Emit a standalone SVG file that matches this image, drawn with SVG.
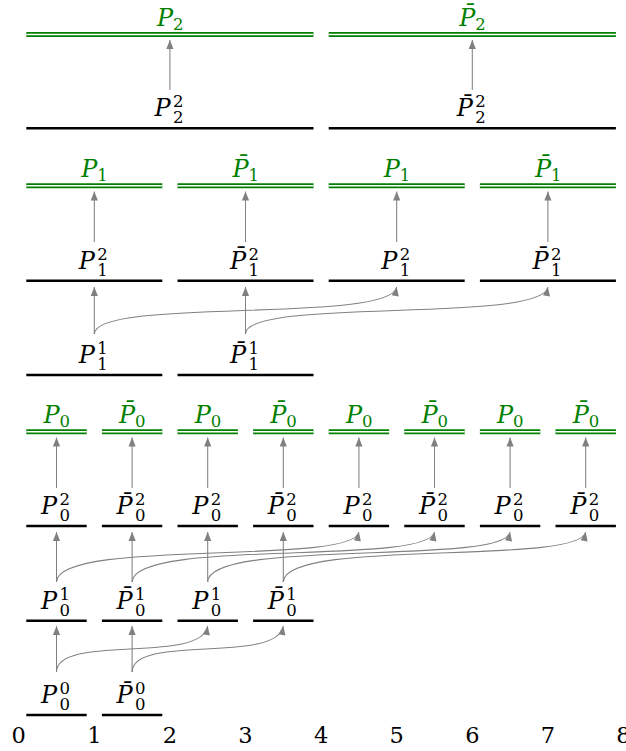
<svg xmlns="http://www.w3.org/2000/svg" width="626" height="751" viewBox="0 0 626 751">
<style>
.seg{stroke:#000;stroke-width:2.6;fill:none}
.gs{stroke:#008000;stroke-width:5;fill:none}
.gw{stroke:#fff;stroke-width:1.4;fill:none}
.arr{fill:none;stroke:#808080;stroke-width:1.05;marker-end:url(#ah)}
text{font-family:"DejaVu Serif",serif}
.P{font-style:italic;font-size:24px}
.s{font-style:normal;font-size:16.5px}
.g{fill:#008000}
.k{fill:#000}
.ax{font-size:22.5px;text-anchor:middle;fill:#000}
</style>
<defs>
<marker id="ah" markerUnits="userSpaceOnUse" orient="auto" overflow="visible" markerWidth="1" markerHeight="1"><path d="M0,0 L-9,-3.6 L-9,3.6 Z" fill="#808080"/></marker>
</defs>

<g id="g2-a"><line class="gs" x1="26.3" y1="34.5" x2="313.5" y2="34.5"/><line class="gw" x1="26.3" y1="34.5" x2="313.5" y2="34.5"/><text class="g"><tspan class="P" x="156.9" y="25.5">P</tspan><tspan class="s" x="172.9" y="29.5">2</tspan></text></g>
<g id="g2-b"><line class="gs" x1="328.7" y1="34.5" x2="615.9" y2="34.5"/><line class="gw" x1="328.7" y1="34.5" x2="615.9" y2="34.5"/><text class="g"><tspan class="P" x="459.3" y="25.5">P&#x304;</tspan><tspan class="s" x="475.3" y="29.5">2</tspan></text></g>
<g id="p22-a"><line class="seg" x1="26.3" y1="128.3" x2="313.5" y2="128.3"/><text class="k"><tspan class="P" x="154.4" y="116.3">P</tspan><tspan class="s" x="172.9" y="123.3">2</tspan><tspan class="s" x="172.9" y="107.3">2</tspan></text></g>
<g id="p22-b"><line class="seg" x1="328.7" y1="128.3" x2="615.9" y2="128.3"/><text class="k"><tspan class="P" x="456.8" y="116.3">P&#x304;</tspan><tspan class="s" x="475.3" y="123.3">2</tspan><tspan class="s" x="475.3" y="107.3">2</tspan></text></g>

<g id="g1-0"><line class="gs" x1="26.3" y1="185.7" x2="162.3" y2="185.7"/><line class="gw" x1="26.3" y1="185.7" x2="162.3" y2="185.7"/><text class="g"><tspan class="P" x="81.3" y="176.7">P</tspan><tspan class="s" x="97.3" y="180.7">1</tspan></text></g>
<g id="g1-1"><line class="gs" x1="177.5" y1="185.7" x2="313.5" y2="185.7"/><line class="gw" x1="177.5" y1="185.7" x2="313.5" y2="185.7"/><text class="g"><tspan class="P" x="232.5" y="176.7">P&#x304;</tspan><tspan class="s" x="248.5" y="180.7">1</tspan></text></g>
<g id="g1-2"><line class="gs" x1="328.7" y1="185.7" x2="464.7" y2="185.7"/><line class="gw" x1="328.7" y1="185.7" x2="464.7" y2="185.7"/><text class="g"><tspan class="P" x="383.7" y="176.7">P</tspan><tspan class="s" x="399.7" y="180.7">1</tspan></text></g>
<g id="g1-3"><line class="gs" x1="479.9" y1="185.7" x2="615.9" y2="185.7"/><line class="gw" x1="479.9" y1="185.7" x2="615.9" y2="185.7"/><text class="g"><tspan class="P" x="534.9" y="176.7">P&#x304;</tspan><tspan class="s" x="550.9" y="180.7">1</tspan></text></g>
<g id="p12-0"><line class="seg" x1="26.3" y1="280.7" x2="162.3" y2="280.7"/><text class="k"><tspan class="P" x="78.8" y="268.7">P</tspan><tspan class="s" x="97.3" y="275.7">1</tspan><tspan class="s" x="97.3" y="259.7">2</tspan></text></g>
<g id="p12-1"><line class="seg" x1="177.5" y1="280.7" x2="313.5" y2="280.7"/><text class="k"><tspan class="P" x="230" y="268.7">P&#x304;</tspan><tspan class="s" x="248.5" y="275.7">1</tspan><tspan class="s" x="248.5" y="259.7">2</tspan></text></g>
<g id="p12-2"><line class="seg" x1="328.7" y1="280.7" x2="464.7" y2="280.7"/><text class="k"><tspan class="P" x="381.2" y="268.7">P</tspan><tspan class="s" x="399.7" y="275.7">1</tspan><tspan class="s" x="399.7" y="259.7">2</tspan></text></g>
<g id="p12-3"><line class="seg" x1="479.9" y1="280.7" x2="615.9" y2="280.7"/><text class="k"><tspan class="P" x="532.4" y="268.7">P&#x304;</tspan><tspan class="s" x="550.9" y="275.7">1</tspan><tspan class="s" x="550.9" y="259.7">2</tspan></text></g>
<g id="p11-0"><line class="seg" x1="26.3" y1="375" x2="162.3" y2="375"/><text class="k"><tspan class="P" x="78.8" y="363">P</tspan><tspan class="s" x="97.3" y="370">1</tspan><tspan class="s" x="97.3" y="354">1</tspan></text></g>
<g id="p11-1"><line class="seg" x1="177.5" y1="375" x2="313.5" y2="375"/><text class="k"><tspan class="P" x="230" y="363">P&#x304;</tspan><tspan class="s" x="248.5" y="370">1</tspan><tspan class="s" x="248.5" y="354">1</tspan></text></g>

<g id="g0-0"><line class="gs" x1="26.3" y1="431.8" x2="86.7" y2="431.8"/><line class="gw" x1="26.3" y1="431.8" x2="86.7" y2="431.8"/><text class="g"><tspan class="P" x="43.5" y="422.8">P</tspan><tspan class="s" x="59.5" y="426.8">0</tspan></text></g>
<g id="g0-1"><line class="gs" x1="101.9" y1="431.8" x2="162.3" y2="431.8"/><line class="gw" x1="101.9" y1="431.8" x2="162.3" y2="431.8"/><text class="g"><tspan class="P" x="119.1" y="422.8">P&#x304;</tspan><tspan class="s" x="135.1" y="426.8">0</tspan></text></g>
<g id="g0-2"><line class="gs" x1="177.5" y1="431.8" x2="237.9" y2="431.8"/><line class="gw" x1="177.5" y1="431.8" x2="237.9" y2="431.8"/><text class="g"><tspan class="P" x="194.7" y="422.8">P</tspan><tspan class="s" x="210.7" y="426.8">0</tspan></text></g>
<g id="g0-3"><line class="gs" x1="253.1" y1="431.8" x2="313.5" y2="431.8"/><line class="gw" x1="253.1" y1="431.8" x2="313.5" y2="431.8"/><text class="g"><tspan class="P" x="270.3" y="422.8">P&#x304;</tspan><tspan class="s" x="286.3" y="426.8">0</tspan></text></g>
<g id="g0-4"><line class="gs" x1="328.7" y1="431.8" x2="389.1" y2="431.8"/><line class="gw" x1="328.7" y1="431.8" x2="389.1" y2="431.8"/><text class="g"><tspan class="P" x="345.9" y="422.8">P</tspan><tspan class="s" x="361.9" y="426.8">0</tspan></text></g>
<g id="g0-5"><line class="gs" x1="404.3" y1="431.8" x2="464.7" y2="431.8"/><line class="gw" x1="404.3" y1="431.8" x2="464.7" y2="431.8"/><text class="g"><tspan class="P" x="421.5" y="422.8">P&#x304;</tspan><tspan class="s" x="437.5" y="426.8">0</tspan></text></g>
<g id="g0-6"><line class="gs" x1="479.9" y1="431.8" x2="540.3" y2="431.8"/><line class="gw" x1="479.9" y1="431.8" x2="540.3" y2="431.8"/><text class="g"><tspan class="P" x="497.1" y="422.8">P</tspan><tspan class="s" x="513.1" y="426.8">0</tspan></text></g>
<g id="g0-7"><line class="gs" x1="555.5" y1="431.8" x2="615.9" y2="431.8"/><line class="gw" x1="555.5" y1="431.8" x2="615.9" y2="431.8"/><text class="g"><tspan class="P" x="572.7" y="422.8">P&#x304;</tspan><tspan class="s" x="588.7" y="426.8">0</tspan></text></g>
<g id="p02-0"><line class="seg" x1="26.3" y1="526" x2="86.7" y2="526"/><text class="k"><tspan class="P" x="41" y="514">P</tspan><tspan class="s" x="59.5" y="521">0</tspan><tspan class="s" x="59.5" y="505">2</tspan></text></g>
<g id="p02-1"><line class="seg" x1="101.9" y1="526" x2="162.3" y2="526"/><text class="k"><tspan class="P" x="116.6" y="514">P&#x304;</tspan><tspan class="s" x="135.1" y="521">0</tspan><tspan class="s" x="135.1" y="505">2</tspan></text></g>
<g id="p02-2"><line class="seg" x1="177.5" y1="526" x2="237.9" y2="526"/><text class="k"><tspan class="P" x="192.2" y="514">P</tspan><tspan class="s" x="210.7" y="521">0</tspan><tspan class="s" x="210.7" y="505">2</tspan></text></g>
<g id="p02-3"><line class="seg" x1="253.1" y1="526" x2="313.5" y2="526"/><text class="k"><tspan class="P" x="267.8" y="514">P&#x304;</tspan><tspan class="s" x="286.3" y="521">0</tspan><tspan class="s" x="286.3" y="505">2</tspan></text></g>
<g id="p02-4"><line class="seg" x1="328.7" y1="526" x2="389.1" y2="526"/><text class="k"><tspan class="P" x="343.4" y="514">P</tspan><tspan class="s" x="361.9" y="521">0</tspan><tspan class="s" x="361.9" y="505">2</tspan></text></g>
<g id="p02-5"><line class="seg" x1="404.3" y1="526" x2="464.7" y2="526"/><text class="k"><tspan class="P" x="419" y="514">P&#x304;</tspan><tspan class="s" x="437.5" y="521">0</tspan><tspan class="s" x="437.5" y="505">2</tspan></text></g>
<g id="p02-6"><line class="seg" x1="479.9" y1="526" x2="540.3" y2="526"/><text class="k"><tspan class="P" x="494.6" y="514">P</tspan><tspan class="s" x="513.1" y="521">0</tspan><tspan class="s" x="513.1" y="505">2</tspan></text></g>
<g id="p02-7"><line class="seg" x1="555.5" y1="526" x2="615.9" y2="526"/><text class="k"><tspan class="P" x="570.2" y="514">P&#x304;</tspan><tspan class="s" x="588.7" y="521">0</tspan><tspan class="s" x="588.7" y="505">2</tspan></text></g>
<g id="p01-0"><line class="seg" x1="26.3" y1="620.7" x2="86.7" y2="620.7"/><text class="k"><tspan class="P" x="41" y="608.7">P</tspan><tspan class="s" x="59.5" y="615.7">0</tspan><tspan class="s" x="59.5" y="599.7">1</tspan></text></g>
<g id="p01-1"><line class="seg" x1="101.9" y1="620.7" x2="162.3" y2="620.7"/><text class="k"><tspan class="P" x="116.6" y="608.7">P&#x304;</tspan><tspan class="s" x="135.1" y="615.7">0</tspan><tspan class="s" x="135.1" y="599.7">1</tspan></text></g>
<g id="p01-2"><line class="seg" x1="177.5" y1="620.7" x2="237.9" y2="620.7"/><text class="k"><tspan class="P" x="192.2" y="608.7">P</tspan><tspan class="s" x="210.7" y="615.7">0</tspan><tspan class="s" x="210.7" y="599.7">1</tspan></text></g>
<g id="p01-3"><line class="seg" x1="253.1" y1="620.7" x2="313.5" y2="620.7"/><text class="k"><tspan class="P" x="267.8" y="608.7">P&#x304;</tspan><tspan class="s" x="286.3" y="615.7">0</tspan><tspan class="s" x="286.3" y="599.7">1</tspan></text></g>
<g id="p00-0"><line class="seg" x1="26.3" y1="715" x2="86.7" y2="715"/><text class="k"><tspan class="P" x="41" y="703">P</tspan><tspan class="s" x="59.5" y="710">0</tspan><tspan class="s" x="59.5" y="694">0</tspan></text></g>
<g id="p00-1"><line class="seg" x1="101.9" y1="715" x2="162.3" y2="715"/><text class="k"><tspan class="P" x="116.6" y="703">P&#x304;</tspan><tspan class="s" x="135.1" y="710">0</tspan><tspan class="s" x="135.1" y="694">0</tspan></text></g>

<g id="axis">
<text class="ax" x="18.7" y="742.5">0</text>
<text class="ax" x="94.3" y="742.5">1</text>
<text class="ax" x="169.9" y="742.5">2</text>
<text class="ax" x="245.5" y="742.5">3</text>
<text class="ax" x="321.1" y="742.5">4</text>
<text class="ax" x="396.7" y="742.5">5</text>
<text class="ax" x="472.3" y="742.5">6</text>
<text class="ax" x="547.9" y="742.5">7</text>
<text class="ax" x="623.5" y="742.5">8</text>
</g>

<g id="connectors">
<path class="arr" d="M169.9,90V40"/>
<path class="arr" d="M472.3,90V40"/>
<path class="arr" d="M94.3,242V191.5"/>
<path class="arr" d="M245.5,242V191.5"/>
<path class="arr" d="M396.7,242V191.5"/>
<path class="arr" d="M547.9,242V191.5"/>
<path class="arr" d="M94.3,334V287"/>
<path class="arr" d="M245.5,334V287"/>
<path class="arr" d="M94.3,334C94.3,297 390.7,324 396.7,287"/>
<path class="arr" d="M245.5,334C245.5,297 541.9,324 547.9,287"/>
<path class="arr" d="M56.5,488V437.5"/>
<path class="arr" d="M132.1,488V437.5"/>
<path class="arr" d="M207.7,488V437.5"/>
<path class="arr" d="M283.3,488V437.5"/>
<path class="arr" d="M358.9,488V437.5"/>
<path class="arr" d="M434.5,488V437.5"/>
<path class="arr" d="M510.1,488V437.5"/>
<path class="arr" d="M585.7,488V437.5"/>
<path class="arr" d="M56.5,582V532"/>
<path class="arr" d="M132.1,582V532"/>
<path class="arr" d="M207.7,582V532"/>
<path class="arr" d="M283.3,582V532"/>
<path class="arr" d="M56.5,582C56.5,538 352.9,566 358.9,532"/>
<path class="arr" d="M132.1,582C132.1,538 428.5,566 434.5,532"/>
<path class="arr" d="M207.7,582C207.7,538 504.1,566 510.1,532"/>
<path class="arr" d="M283.3,582C283.3,538 579.7,566 585.7,532"/>
<path class="arr" d="M56.5,672V626"/>
<path class="arr" d="M132.1,672V626"/>
<path class="arr" d="M56.5,672C56.5,633.5 201.7,664.5 207.7,626"/>
<path class="arr" d="M132.1,672C132.1,633.5 277.3,664.5 283.3,626"/>
</g>
</svg>
